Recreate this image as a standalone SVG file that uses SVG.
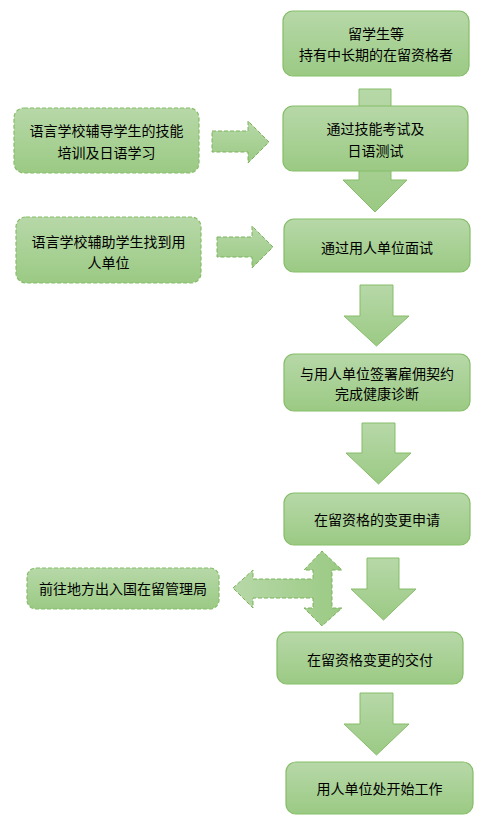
<svg xmlns="http://www.w3.org/2000/svg" width="502" height="823" viewBox="0 0 502 823">
<defs>
<linearGradient id="gv" x1="0" y1="0" x2="0" y2="1">
<stop offset="0" stop-color="#b7d8a8"/>
<stop offset="1" stop-color="#9bca84"/>
</linearGradient>
<linearGradient id="gh" x1="0" y1="0" x2="1" y2="0">
<stop offset="0" stop-color="#b7d8a8"/>
<stop offset="1" stop-color="#9bca84"/>
</linearGradient>
</defs>
<style>
.box{fill:url(#gv);stroke:#86bd68;stroke-width:1.2}
.dbox{fill:url(#gv);stroke:#86bd68;stroke-width:1.2;stroke-dasharray:4 2}
.arr{fill:url(#gv);stroke:#86bd68;stroke-width:1}
.darr{fill:url(#gv);stroke:#7bb35c;stroke-width:1;stroke-dasharray:4 2}
.darrh{fill:url(#gh);stroke:#7bb35c;stroke-width:1;stroke-dasharray:4 2}
text{font-family:"Noto Sans CJK SC","Microsoft YaHei",sans-serif;font-size:14px;fill:#000;text-anchor:middle;dominant-baseline:central}
</style>
<g id="connectors">
<path class="arr" d="M359,89 L391,89 L391,180 L407,180 L375,212 L343,180 L359,180 Z"/>
<path class="arr" d="M360,285 L393,285 L393,316 L409,316 L376.5,346 L344,316 L360,316 Z"/>
<path class="arr" d="M362,423 L395,423 L395,453 L411,453 L378.5,484 L346,453 L362,453 Z"/>
<path class="arr" d="M367,558 L399,558 L399,589 L416,589 L383.5,620 L351,589 L367,589 Z"/>
<path class="arr" d="M360,693 L393,693 L393,724 L409,724 L376.5,755 L344,724 L360,724 Z"/>
<path class="darr" d="M212,131 L248,131 L248,121 L269,142 L248,163 L248,152 L212,152 Z"/>
<path class="darr" d="M217,237 L252,237 L252,226 L273,247 L252,268 L252,257 L217,257 Z"/>
<path class="darrh" d="M233,588 L253,570 L253,579 L313,579 L313,570 L304,570 L322,551 L342,570 L332,570 L332,608 L342,608 L322,626 L304,608 L313,608 L313,598 L253,598 L253,608 Z"/>
</g>
<g id="node1">
<rect class="box" x="283" y="11" width="186" height="65" rx="10"/>
<text x="376" y="33">留学生等</text>
<text x="376" y="54">持有中长期的在留资格者</text>
</g>
<g id="node2">
<rect class="box" x="283" y="106" width="185" height="65" rx="10"/>
<text x="375.5" y="128">通过技能考试及</text>
<text x="375.5" y="150">日语测试</text>
</g>
<g id="node3">
<rect class="box" x="284" y="219" width="186" height="53" rx="10"/>
<text x="377" y="247">通过用人单位面试</text>
</g>
<g id="node4">
<rect class="box" x="284" y="354" width="186" height="57" rx="10"/>
<text x="377" y="373">与用人单位签署雇佣契约</text>
<text x="377" y="393">完成健康诊断</text>
</g>
<g id="node5">
<rect class="box" x="284" y="493" width="186" height="52" rx="10"/>
<text x="377" y="519">在留资格的变更申请</text>
</g>
<g id="node6">
<rect class="box" x="277" y="632" width="186" height="52" rx="10"/>
<text x="370" y="659">在留资格变更的交付</text>
</g>
<g id="node7">
<rect class="box" x="286" y="762" width="187" height="52" rx="10"/>
<text x="379.5" y="788">用人单位处开始工作</text>
</g>
<g id="side1">
<rect class="dbox" x="14" y="108" width="185" height="65" rx="10"/>
<text x="106.5" y="130">语言学校辅导学生的技能</text>
<text x="106.5" y="152">培训及日语学习</text>
</g>
<g id="side2">
<rect class="dbox" x="16" y="217" width="185" height="66" rx="10"/>
<text x="108.5" y="241">语言学校辅助学生找到用</text>
<text x="108.5" y="262">人单位</text>
</g>
<g id="side3">
<rect class="dbox" x="27" y="568" width="192" height="41" rx="9"/>
<text x="123" y="588">前往地方出入国在留管理局</text>
</g>
</svg>
